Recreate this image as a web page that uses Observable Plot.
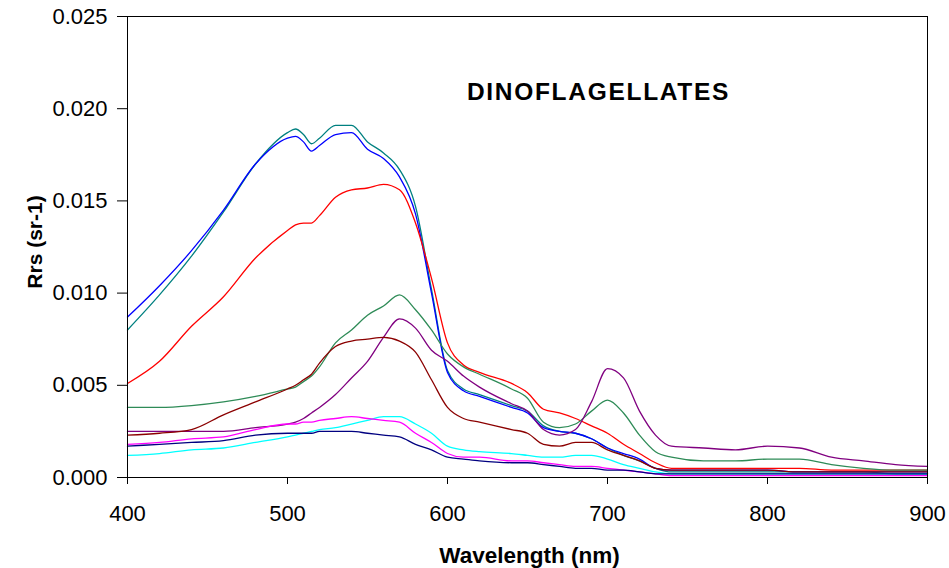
<!DOCTYPE html>
<html>
<head>
<meta charset="utf-8">
<script src="https://cdn.jsdelivr.net/npm/d3@7"></script>
<script src="https://cdn.jsdelivr.net/npm/@observablehq/plot@0.6"></script>
<style>
  html, body { margin: 0; padding: 0; background: #fff; }
  #chart { width: 949px; height: 568px; }
</style>
</head>
<body>
<div id="chart"></div>
<script>
// Wavelength grid (nm)
const wavelengths = [400,420,440,460,480,500,505,510,515,520,530,540,550,560,570,580,590,600,610,620,640,650,660,670,680,690,700,710,720,730,740,760,780,800,820,840,860,880,900];

// Rrs (sr-1) series
const blueSeries    = [0.0087,0.0104,0.0123,0.0145,0.0170,0.0184,0.0185,0.0182,0.0177,0.0180,0.0186,0.0187,0.0178,0.0173,0.0163,0.0143,0.0100,0.0057,0.0047,0.0044,0.0038,0.0035,0.0027,0.0025,0.0024,0.0021,0.0016,0.0013,0.0010,0.0005,0.0004,0.0004,0.0004,0.0004,0.0003,0.0003,0.0003,0.0003,0.0003];
const tealSeries    = [0.0080,0.0099,0.0120,0.0144,0.0170,0.0187,0.0189,0.0186,0.0181,0.0184,0.0191,0.0191,0.0182,0.0176,0.0167,0.0147,0.0102,0.0058,0.0048,0.0045,0.0039,0.0036,0.0028,0.0025,0.0024,0.0021,0.0016,0.0012,0.0009,0.0005,0.0003,0.0003,0.0003,0.0003,0.0003,0.0003,0.0003,0.0002,0.0002];
const redSeries     = [0.0051,0.0063,0.0082,0.0098,0.0119,0.0134,0.0137,0.0138,0.0138,0.0142,0.0152,0.0156,0.0157,0.0159,0.0156,0.0138,0.0108,0.0073,0.0061,0.0057,0.0051,0.0046,0.0037,0.0035,0.0032,0.0028,0.0024,0.0018,0.0013,0.0008,0.0005,0.0005,0.0005,0.0005,0.0005,0.0004,0.0004,0.0004,0.0004];
const seaGreenSeries= [0.0038,0.0038,0.0039,0.0041,0.0044,0.0048,0.0049,0.0052,0.0055,0.0060,0.0073,0.0080,0.0088,0.0093,0.0099,0.0091,0.0080,0.0067,0.0060,0.0056,0.0048,0.0043,0.0030,0.0027,0.0029,0.0036,0.0042,0.0035,0.0023,0.0014,0.0011,0.0009,0.0009,0.0010,0.0010,0.0007,0.0005,0.0004,0.0004];
const purpleSeries  = [0.0025,0.0025,0.0025,0.0025,0.0027,0.0029,0.0030,0.0032,0.0035,0.0038,0.0045,0.0054,0.0063,0.0076,0.0086,0.0081,0.0069,0.0063,0.0055,0.0049,0.0040,0.0036,0.0026,0.0023,0.0026,0.0041,0.0059,0.0054,0.0036,0.0023,0.0017,0.0016,0.0015,0.0017,0.0016,0.0011,0.0009,0.0007,0.0006];
const darkRedSeries = [0.0023,0.0024,0.0026,0.0034,0.0041,0.0048,0.0050,0.0053,0.0056,0.0062,0.0071,0.0074,0.0075,0.0076,0.0074,0.0068,0.0053,0.0038,0.0032,0.0030,0.0026,0.0024,0.0018,0.0017,0.0019,0.0019,0.0015,0.0012,0.0009,0.0005,0.0004,0.0004,0.0004,0.0004,0.0003,0.0003,0.0003,0.0003,0.0003];
const cyanSeries    = [0.0012,0.0013,0.0015,0.0016,0.0019,0.0022,0.0023,0.0024,0.0025,0.0026,0.0027,0.0029,0.0031,0.0033,0.0033,0.0029,0.0024,0.0017,0.0015,0.0014,0.0013,0.0012,0.0011,0.0011,0.0012,0.0012,0.0010,0.0007,0.0005,0.0003,0.0002,0.0002,0.0002,0.0002,0.0002,0.0002,0.0002,0.0002,0.0002];
const magentaSeries = [0.0018,0.0019,0.0021,0.0022,0.0026,0.0029,0.0029,0.0030,0.0030,0.0031,0.0032,0.0033,0.0032,0.0031,0.0030,0.0024,0.0019,0.0013,0.0011,0.0011,0.0009,0.0009,0.0008,0.0007,0.0006,0.0006,0.0005,0.0004,0.0003,0.0002,0.0001,0.0001,0.0001,0.0001,0.0001,0.0001,0.0001,0.0001,0.0001];
const navySeries    = [0.0017,0.0018,0.0019,0.0020,0.0023,0.0024,0.0024,0.0024,0.0024,0.0025,0.0025,0.0025,0.0024,0.0023,0.0022,0.0018,0.0015,0.0011,0.0010,0.0009,0.0008,0.0008,0.0007,0.0006,0.0005,0.0005,0.0004,0.0004,0.0003,0.0002,0.0002,0.0002,0.0002,0.0002,0.0002,0.0002,0.0002,0.0002,0.0002];

const seriesNames  = ["teal","blue","red","seaGreen","purple","darkRed","cyan","magenta","navy"];
const seriesValues = [tealSeries, blueSeries, redSeries, seaGreenSeries, purpleSeries, darkRedSeries, cyanSeries, magentaSeries, navySeries];
const seriesColors = ["#2F9A9A","#1F1FFF","#FF1A1A","#3A9A6A","#952F95","#8B1A1A","#1ECBFF","#FF22FF","#1A1A8A"];

const xTicks = [400,500,600,700,800,900];
const yTicks = [0.000,0.005,0.010,0.015,0.020,0.025];

const titleText = "DINOFLAGELLATES";
const xLabel = "Wavelength (nm)";
const yLabel = "Rrs (sr-1)";

const rows = [];
seriesNames.forEach((name, i) => {
  wavelengths.forEach((w, j) => rows.push({series: name, wl: w, rrs: seriesValues[i][j]}));
});

const font = "'Liberation Sans', Arial, Helvetica, sans-serif";

const chart = Plot.plot({
  width: 949,
  height: 568,
  marginLeft: 127,
  marginRight: 22,
  marginTop: 16,
  marginBottom: 91,
  style: {fontFamily: font, fontSize: "22px", color: "#000", background: "#fff"},
  x: {domain: [400, 900], label: null},
  y: {domain: [0, 0.025], label: null},
  color: {domain: seriesNames, range: seriesColors},
  marks: [
    Plot.line(rows, {x: "wl", y: "rrs", z: "series", stroke: "series", strokeWidth: 1.3, curve: "monotone-x"}),
    Plot.frame({stroke: "#000", strokeWidth: 1}),
    Plot.axisX({ticks: xTicks, tickSize: 7, tickPadding: 21, tickFormat: d3.format("d"), label: null, fontSize: 22}),
    Plot.axisY({ticks: yTicks, tickSize: 10, tickPadding: 10, tickFormat: d3.format(".3f"), label: null, fontSize: 22}),
    Plot.text([titleText], {frameAnchor: "top", textAnchor: "middle", text: d => d, dx: 71, dy: 83, lineAnchor: "bottom", fontSize: 24.5, fontWeight: "bold", fill: "#000"}),
    Plot.text([xLabel], {frameAnchor: "bottom", textAnchor: "middle", text: d => d, dx: 2, dy: 85, lineAnchor: "bottom", fontSize: 22.5, fontWeight: "bold", fill: "#000"}),
    Plot.text([yLabel], {frameAnchor: "left", textAnchor: "middle", text: d => d, dx: -86, dy: -5, rotate: -90, lineAnchor: "bottom", fontSize: 21, fontWeight: "bold", fill: "#000"})
  ]
});
// widen the title's letter spacing to match the reference
d3.select(chart).selectAll("text")
  .filter(function() { return this.textContent === titleText; })
  .attr("letter-spacing", "1.7px");
document.getElementById("chart").appendChild(chart);
</script>
</body>
</html>
